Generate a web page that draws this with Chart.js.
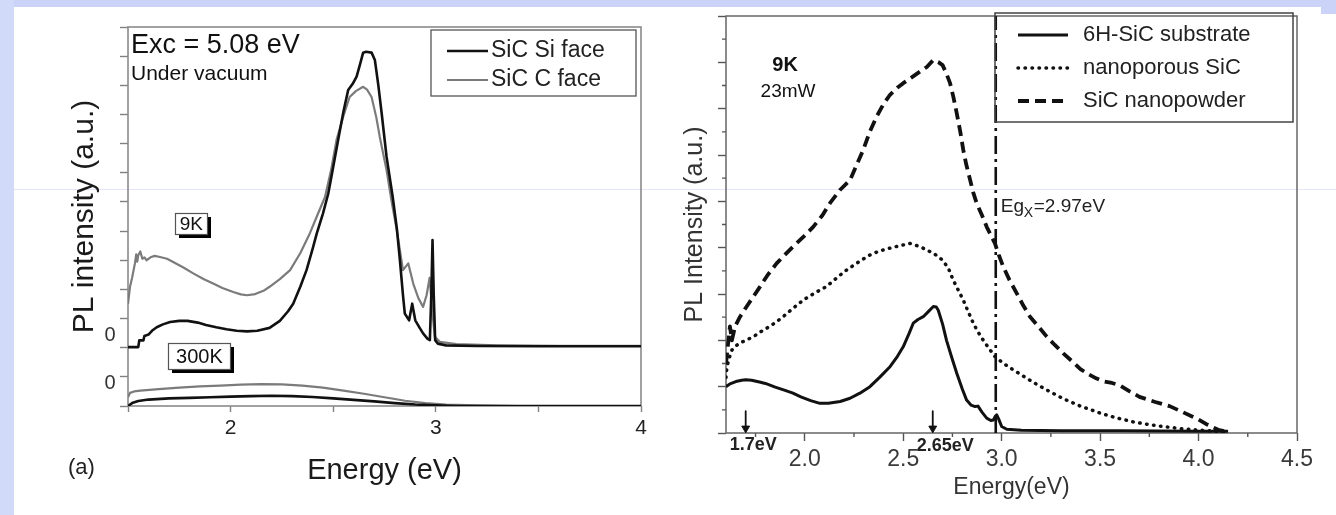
<!DOCTYPE html>
<html>
<head>
<meta charset="utf-8">
<title>SiC photoluminescence</title>
<script src="https://cdn.jsdelivr.net/npm/chart.js@4.4.1/dist/chart.umd.min.js"></script>
<style>
  html, body { margin: 0; padding: 0; background: #fff; }
  #slide { position: relative; width: 1336px; height: 515px; overflow: hidden; background: #fff; }
  .band { position: absolute; background: #cbd3f8; }
  #rule { position: absolute; left: 14px; right: 0; top: 189px; height: 1px; background: #e2e6f8; }
  canvas { position: absolute; top: 0; }
  #chartA { left: 0; }
  #chartB { left: 660px; }
</style>
</head>
<body>
<div id="slide">
  <div class="band" style="left:0;top:0;width:1336px;height:7px"></div>
  <div class="band" style="left:0;top:0;width:14px;height:515px;background:#d2daf9"></div>
  <div class="band" style="left:1321px;top:0;width:15px;height:14px"></div>
  <div id="rule"></div>
  <canvas id="chartA" width="660" height="515"></canvas>
  <canvas id="chartB" width="676" height="515"></canvas>
</div>
<script>
// ---------- panel (a): PL spectra, Si face vs C face, curves offset per temperature ----------
// [energy eV, intensity a.u. (offset units)]
const siFace9K = [
  [1.50, 2.02], [1.55, 2.02], [1.555, 2.25], [1.575, 2.25], [1.58, 2.4], [1.60, 2.45], [1.62, 2.6],
  [1.64, 2.7], [1.67, 2.8], [1.705, 2.88], [1.75, 2.92], [1.79, 2.92], [1.84, 2.86], [1.88, 2.78],
  [1.93, 2.7], [1.98, 2.63], [2.03, 2.58], [2.08, 2.56], [2.13, 2.58], [2.19, 2.68], [2.24, 2.92],
  [2.28, 3.25], [2.305, 3.51], [2.34, 4.1], [2.37, 4.66], [2.40, 5.4], [2.42, 5.92], [2.45, 6.6],
  [2.476, 7.29], [2.50, 8.2], [2.524, 9.12], [2.55, 10.1], [2.573, 10.84], [2.595, 11.05],
  [2.614, 11.3], [2.63, 11.7], [2.646, 12.12], [2.66, 12.15], [2.687, 12.12], [2.703, 11.87],
  [2.72, 11.0], [2.736, 10.05], [2.76, 8.55], [2.79, 7.17], [2.81, 6.1], [2.825, 5.0], [2.84, 3.8],
  [2.849, 3.17], [2.87, 2.94], [2.885, 3.51], [2.90, 2.94], [2.92, 2.7], [2.938, 2.49], [2.96, 2.3],
  [2.971, 2.26], [2.978, 3.8], [2.984, 5.69], [2.99, 3.8], [2.997, 2.26], [3.01, 2.14], [3.05, 2.08],
  [3.2, 2.06], [3.5, 2.05], [4.0, 2.05]
];
const cFace9K = [
  [1.50, 3.5], [1.51, 4.1], [1.52, 4.4], [1.534, 4.9], [1.54, 5.2], [1.545, 4.95], [1.55, 5.17],
  [1.56, 5.3], [1.57, 5.05], [1.58, 5.1], [1.59, 5.0], [1.61, 5.1], [1.63, 5.15], [1.656, 5.11],
  [1.69, 5.05], [1.72, 4.94], [1.77, 4.75], [1.818, 4.55], [1.87, 4.35], [1.915, 4.2], [1.96, 4.05],
  [2.013, 3.91], [2.05, 3.83], [2.08, 3.8], [2.12, 3.84], [2.16, 3.95], [2.19, 4.09], [2.24, 4.35],
  [2.29, 4.66], [2.34, 5.25], [2.386, 5.92], [2.42, 6.5], [2.46, 7.17], [2.49, 8.1], [2.516, 9.12],
  [2.55, 9.95], [2.58, 10.6], [2.61, 10.8], [2.646, 10.95], [2.665, 10.85], [2.687, 10.6],
  [2.71, 9.9], [2.727, 9.23], [2.76, 8.09], [2.785, 7.0], [2.81, 6.03], [2.84, 4.66], [2.866, 4.89],
  [2.89, 4.2], [2.915, 3.7], [2.938, 3.4], [2.955, 3.8], [2.97, 4.4], [2.98, 3.5], [2.995, 2.37],
  [3.02, 2.2], [3.1, 2.12], [3.3, 2.08], [3.6, 2.06], [4.0, 2.06]
];
const siFace300K = [
  [1.50, 0.0], [1.52, 0.1], [1.55, 0.17], [1.6, 0.22], [1.7, 0.26], [1.8, 0.28], [1.9, 0.3],
  [2.0, 0.32], [2.1, 0.34], [2.2, 0.35], [2.3, 0.34], [2.4, 0.31], [2.5, 0.26], [2.6, 0.21],
  [2.7, 0.16], [2.8, 0.1], [2.9, 0.05], [3.0, 0.02], [3.1, 0.0], [4.0, 0.0]
];
const cFace300K = [
  [1.50, 0.3], [1.51, 0.45], [1.53, 0.5], [1.56, 0.53], [1.65, 0.58], [1.75, 0.63], [1.85, 0.67],
  [1.95, 0.7], [2.05, 0.73], [2.15, 0.75], [2.25, 0.74], [2.35, 0.7], [2.45, 0.63], [2.55, 0.53],
  [2.65, 0.42], [2.75, 0.3], [2.85, 0.18], [2.95, 0.1], [3.05, 0.05], [3.2, 0.02], [3.4, 0.0], [4.0, 0.0]
];
const leftXTicks = [1.5, 2, 2.5, 3, 3.5, 4];
const leftXLabels = ['', '2', '', '3', '', '4'];
const leftZeroMarks = [2.42, 0.78];   // where the "0" of each offset group is printed

// ---------- panel (b): 6H-SiC substrate, nanoporous SiC, SiC nanopowder at 9K ----------
const substrate = [
  [1.60, 1.0], [1.62, 1.06], [1.65, 1.11], [1.68, 1.14], [1.70, 1.15], [1.73, 1.14], [1.77, 1.1],
  [1.80, 1.07], [1.85, 0.99], [1.90, 0.92], [1.94, 0.86], [1.98, 0.78], [2.03, 0.70], [2.077, 0.64],
  [2.12, 0.64], [2.18, 0.68], [2.23, 0.75], [2.28, 0.86], [2.331, 1.0], [2.38, 1.2], [2.433, 1.43],
  [2.47, 1.65], [2.50, 1.86], [2.53, 2.15], [2.551, 2.37], [2.575, 2.45], [2.602, 2.51], [2.63, 2.63],
  [2.653, 2.73], [2.668, 2.72], [2.678, 2.65], [2.70, 2.35], [2.72, 2.0], [2.745, 1.65], [2.772, 1.29],
  [2.80, 0.95], [2.822, 0.71], [2.845, 0.6], [2.865, 0.57], [2.88, 0.58], [2.90, 0.45], [2.924, 0.32],
  [2.945, 0.27], [2.958, 0.28], [2.968, 0.36], [2.975, 0.39], [2.985, 0.3], [3.0, 0.14], [3.026, 0.08],
  [3.1, 0.06], [3.3, 0.05], [3.6, 0.05], [4.0, 0.04], [4.15, 0.04]
];
const nanoporous = [
  [1.60, 1.2], [1.605, 1.43], [1.615, 1.6], [1.63, 1.79], [1.65, 1.88], [1.67, 1.94], [1.70, 2.0],
  [1.74, 2.08], [1.77, 2.17], [1.806, 2.26], [1.85, 2.38], [1.89, 2.51], [1.94, 2.69], [1.993, 2.87],
  [2.05, 3.02], [2.11, 3.16], [2.16, 3.34], [2.213, 3.52], [2.28, 3.71], [2.33, 3.84], [2.38, 3.93],
  [2.433, 3.99], [2.48, 4.04], [2.535, 4.09], [2.58, 4.03], [2.62, 3.95], [2.66, 3.86], [2.70, 3.73],
  [2.73, 3.55], [2.754, 3.30], [2.78, 3.08], [2.805, 2.87], [2.83, 2.62], [2.856, 2.37], [2.88, 2.18],
  [2.907, 2.0], [2.94, 1.8], [2.966, 1.65], [3.01, 1.5], [3.06, 1.36], [3.12, 1.2], [3.178, 1.05],
  [3.25, 0.88], [3.313, 0.74], [3.40, 0.58], [3.50, 0.43], [3.58, 0.33], [3.668, 0.24], [3.75, 0.18],
  [3.838, 0.13], [3.92, 0.09], [4.007, 0.06], [4.08, 0.04], [4.14, 0.03]
];
const nanopowder = [
  [1.60, 1.5], [1.61, 1.9], [1.62, 2.3], [1.63, 2.0], [1.646, 2.3], [1.67, 2.5], [1.705, 2.73],
  [1.74, 2.95], [1.773, 3.16], [1.81, 3.4], [1.857, 3.66], [1.90, 3.85], [1.94, 4.02], [1.99, 4.22],
  [2.043, 4.45], [2.09, 4.7], [2.128, 4.96], [2.18, 5.25], [2.23, 5.46], [2.26, 5.75], [2.297, 6.11],
  [2.33, 6.5], [2.365, 6.83], [2.40, 7.1], [2.433, 7.3], [2.47, 7.45], [2.50, 7.55], [2.545, 7.68],
  [2.585, 7.8], [2.62, 7.9], [2.653, 8.05], [2.68, 8.0], [2.70, 7.94], [2.72, 7.75], [2.738, 7.55],
  [2.755, 7.25], [2.772, 6.9], [2.79, 6.5], [2.805, 6.11], [2.82, 5.8], [2.84, 5.46], [2.855, 5.2],
  [2.873, 4.96], [2.90, 4.7], [2.924, 4.45], [2.945, 4.27], [2.966, 4.09], [2.985, 3.85], [3.008, 3.59],
  [3.04, 3.3], [3.076, 3.02], [3.11, 2.75], [3.144, 2.51], [3.19, 2.28], [3.229, 2.08], [3.27, 1.9],
  [3.313, 1.72], [3.365, 1.52], [3.40, 1.38], [3.44, 1.27], [3.48, 1.18], [3.513, 1.12], [3.56, 1.08],
  [3.60, 1.03], [3.65, 0.9], [3.70, 0.78], [3.78, 0.67], [3.853, 0.58], [3.92, 0.45], [3.97, 0.35],
  [4.0, 0.29], [4.04, 0.19], [4.065, 0.14], [4.10, 0.07], [4.13, 0.04]
];
const egxEnergy = 2.97;
const rightXTicks = [2.0, 2.5, 3.0, 3.5, 4.0, 4.5];
const rightXMinor = [1.75, 2.25, 2.75, 3.25, 3.75, 4.25];
const rightYTicks = [0, 1, 2, 3, 4, 5, 6, 7, 8, 9];
const rightYMinor = [0.5, 1.5, 2.5, 3.5, 4.5, 5.5, 6.5, 7.5, 8.5];
const peakEnergies = [1.7, 2.65];
const peakLabels = ['1.7eV', '2.65eV'];

const FONT = "'Liberation Sans', Arial, Helvetica, sans-serif";
const pts = arr => arr.map(([x, y]) => ({ x, y }));

// Frame, minor ticks, boxed legend and free text. Settings are kept in a closure
// (not in chart options) so Chart.js does not wrap the nested arrays in resolvers.
function makeDecor(cfg) {
  return {
    id: 'panelDecor',
    beforeDatasetsDraw(chart) {
      const { ctx, chartArea: a, scales: { x, y } } = chart;
      ctx.save();
      ctx.strokeStyle = cfg.frameColor;
      ctx.lineWidth = cfg.frameWidth;
      ctx.strokeRect(a.left, a.top, a.right - a.left, a.bottom - a.top);
      ctx.strokeStyle = cfg.tickColor;
      ctx.lineWidth = 1.4;
      ctx.beginPath();
      (cfg.minorX || []).forEach(v => {
        const px = x.getPixelForValue(v);
        ctx.moveTo(px, a.bottom); ctx.lineTo(px, a.bottom + cfg.minorLen);
      });
      (cfg.minorY || []).forEach(v => {
        const py = y.getPixelForValue(v);
        ctx.moveTo(a.left, py); ctx.lineTo(a.left - cfg.minorLen, py);
      });
      ctx.stroke();
      ctx.restore();
    },
    afterDatasetsDraw(chart) {
      const { ctx, chartArea: a, scales: { x, y } } = chart;
      const posX = t => (t.x !== undefined ? x.getPixelForValue(t.x) : a.left) + (t.dx || 0);
      const posY = t => (t.y !== undefined ? y.getPixelForValue(t.y) : a.top) + (t.dy || 0);
      ctx.save();
      ctx.textBaseline = 'middle';

      (cfg.tags || []).forEach(t => {
        const cx = posX(t), cy = posY(t);
        const l = Math.round(cx - t.w / 2), tp = Math.round(cy - t.h / 2);
        ctx.fillStyle = '#000';
        ctx.fillRect(l + t.shadow, tp + t.shadow, t.w, t.h);
        ctx.fillStyle = '#fff';
        ctx.fillRect(l, tp, t.w, t.h);
        ctx.strokeStyle = '#555';
        ctx.lineWidth = 1.2;
        ctx.strokeRect(l + 0.5, tp + 0.5, t.w, t.h);
        ctx.fillStyle = '#111';
        ctx.font = t.font;
        ctx.textAlign = 'center';
        ctx.fillText(t.text, cx, cy + 1);
      });

      (cfg.texts || []).forEach(t => {
        ctx.fillStyle = t.color || '#111';
        ctx.font = t.font;
        ctx.textAlign = t.align || 'left';
        ctx.fillText(t.text, posX(t), posY(t));
      });

      const L = cfg.legend;
      if (L) {
        const bx = a.left + L.left, by = a.top + L.top;
        ctx.strokeStyle = L.borderColor;
        ctx.lineWidth = L.borderWidth;
        ctx.strokeRect(bx, by, L.width, L.height);
        chart.data.datasets.filter(d => d.inLegend).forEach((d, i) => {
          const ry = by + L.firstRow + i * L.rowGap;
          ctx.strokeStyle = d.borderColor;
          ctx.lineWidth = d.borderWidth;
          ctx.lineCap = d.borderCapStyle || 'butt';
          ctx.setLineDash(d.borderDash || []);
          ctx.beginPath();
          ctx.moveTo(bx + L.sampleStart, ry);
          ctx.lineTo(bx + L.sampleEnd, ry);
          ctx.stroke();
          ctx.setLineDash([]);
          ctx.lineCap = 'butt';
          ctx.fillStyle = L.color;
          ctx.font = L.font;
          ctx.textAlign = 'left';
          ctx.fillText(d.label, bx + L.textStart, ry);
        });
      }
      ctx.restore();
    }
  };
}

Chart.defaults.font.family = FONT;
Chart.defaults.datasets.scatter.showLine = true;

// panel (a)
new Chart(document.getElementById('chartA'), {
  type: 'scatter',
  data: {
    datasets: [
      { label: 'SiC Si face', data: pts(siFace9K), borderColor: '#111', borderWidth: 2.6, inLegend: true },
      { label: 'SiC C face', data: pts(cFace9K), borderColor: '#7b7b7b', borderWidth: 2.2, inLegend: true },
      { label: 'SiC Si face 300K', data: pts(siFace300K), borderColor: '#111', borderWidth: 2.6 },
      { label: 'SiC C face 300K', data: pts(cFace300K), borderColor: '#7b7b7b', borderWidth: 2.2 }
    ]
  },
  options: {
    responsive: false,
    animation: false,
    events: [],
    elements: { point: { radius: 0 }, line: { tension: 0, borderJoinStyle: 'round' } },
    layout: { padding: { left: 0, top: 27, right: 19, bottom: 0 } },
    plugins: { legend: { display: false }, tooltip: { enabled: false } },
    scales: {
      x: {
        type: 'linear', min: 1.5, max: 4,
        afterFit: s => { s.height = 109; },
        afterBuildTicks: s => { s.ticks = leftXTicks.map(v => ({ value: v })); },
        ticks: {
          callback: (v, i) => leftXLabels[i], autoSkip: false, maxRotation: 0,
          font: { size: 21 }, color: '#222', padding: 4
        },
        grid: { drawOnChartArea: false, drawTicks: true, tickLength: 6, tickColor: '#808080', tickWidth: 1.4 },
        border: { display: false },
        title: { display: true, text: 'Energy (eV)', font: { size: 29 }, color: '#1a1a1a', padding: { top: 0, bottom: 27 } }
      },
      y: {
        type: 'linear', min: 0, max: 13,
        afterFit: s => { s.width = 128; },
        ticks: { stepSize: 1, display: false },
        grid: { drawOnChartArea: false, drawTicks: true, tickLength: 8, tickColor: '#808080', tickWidth: 1.4 },
        border: { display: false },
        title: { display: true, text: 'PL intensity (a.u.)', font: { size: 30 }, color: '#1a1a1a', padding: { top: 67, bottom: 0 } }
      }
    }
  },
  plugins: [makeDecor({
    frameColor: '#8a8a8a', frameWidth: 1.6, tickColor: '#808080', minorLen: 0,
    legend: {
      left: 303, top: 3, width: 205, height: 66, firstRow: 21, rowGap: 29,
      sampleStart: 16, sampleEnd: 57, textStart: 60,
      font: '23px ' + FONT, color: '#222', borderColor: '#555', borderWidth: 1.3
    },
    texts: [
      { text: 'Exc = 5.08 eV', dx: 3, dy: 19, font: '27px ' + FONT, color: '#111' },
      { text: 'Under vacuum', dx: 3, dy: 47, font: '21px ' + FONT, color: '#111' },
      { text: '(a)', dx: -60, dy: 441, font: '22px ' + FONT, color: '#222' },
      { text: '0', y: leftZeroMarks[0], dx: -18, align: 'center', font: '20px ' + FONT, color: '#333' },
      { text: '0', y: leftZeroMarks[1], dx: -18, align: 'center', font: '20px ' + FONT, color: '#333' }
    ],
    tags: [
      { text: '9K', x: 1.809, y: 6.25, w: 32, h: 21, shadow: 4, font: '19px ' + FONT },
      { text: '300K', x: 1.848, y: 1.71, w: 62, h: 26, shadow: 4, font: '20px ' + FONT }
    ]
  })]
});

// panel (b)
const arrowSet = e => ({
  label: 'arrow ' + e, data: pts([[e, 0.47], [e, 0.1]]), borderColor: '#111', borderWidth: 1.8,
  pointRadius: [0, 4.5], pointStyle: 'triangle', pointRotation: 180,
  pointBackgroundColor: '#111', pointBorderColor: '#111', pointBorderWidth: 1
});

new Chart(document.getElementById('chartB'), {
  type: 'scatter',
  data: {
    datasets: [
      { label: '6H-SiC substrate', data: pts(substrate), borderColor: '#111', borderWidth: 3, inLegend: true },
      { label: 'nanoporous SiC', data: pts(nanoporous), borderColor: '#111', borderWidth: 3.5,
        borderDash: [0.5, 6.5], borderCapStyle: 'round', inLegend: true },
      { label: 'SiC nanopowder', data: pts(nanopowder), borderColor: '#111', borderWidth: 3.8,
        borderDash: [11, 6], inLegend: true },
      { label: 'Egx', data: pts([[egxEnergy, 0], [egxEnergy, 9]]), borderColor: '#111', borderWidth: 2.6,
        borderDash: [18, 5, 3, 5] },
      arrowSet(peakEnergies[0]),
      arrowSet(peakEnergies[1])
    ]
  },
  options: {
    responsive: false,
    animation: false,
    events: [],
    elements: { point: { radius: 0 }, line: { tension: 0, borderJoinStyle: 'round' } },
    layout: { padding: { left: 0, top: 16, right: 39, bottom: 0 } },
    plugins: { legend: { display: false }, tooltip: { enabled: false } },
    scales: {
      x: {
        type: 'linear', min: 1.6, max: 4.5,
        afterFit: s => { s.height = 82; },
        afterBuildTicks: s => { s.ticks = rightXTicks.map(v => ({ value: v })); },
        ticks: {
          callback: v => v.toFixed(1), autoSkip: false, maxRotation: 0,
          font: { size: 23 }, color: '#3a3a3a', padding: 5
        },
        grid: { drawOnChartArea: false, drawTicks: true, tickLength: 8, tickColor: '#555', tickWidth: 1.4 },
        border: { display: false },
        title: { display: true, text: 'Energy(eV)', font: { size: 23 }, color: '#333', padding: { top: 0, bottom: 14 } }
      },
      y: {
        type: 'linear', min: 0, max: 9,
        afterFit: s => { s.width = 66; },
        afterBuildTicks: s => { s.ticks = rightYTicks.map(v => ({ value: v })); },
        ticks: { display: false },
        grid: { drawOnChartArea: false, drawTicks: true, tickLength: 8, tickColor: '#555', tickWidth: 1.4 },
        border: { display: false },
        title: { display: true, text: 'PL Intensity (a.u.)', font: { size: 25 }, color: '#333', padding: { top: 20, bottom: 0 } }
      }
    }
  },
  plugins: [makeDecor({
    frameColor: '#666', frameWidth: 1.5, tickColor: '#555', minorLen: 4,
    minorX: rightXMinor, minorY: rightYMinor,
    legend: {
      left: 269, top: -3, width: 298, height: 109, firstRow: 22, rowGap: 33,
      sampleStart: 23, sampleEnd: 73, textStart: 88,
      font: '22px ' + FONT, color: '#222', borderColor: '#444', borderWidth: 1.5
    },
    texts: [
      { text: '9K', x: 1.90, y: 7.94, align: 'center', font: 'bold 20px ' + FONT, color: '#111' },
      { text: '23mW', x: 1.915, y: 7.36, align: 'center', font: '19px ' + FONT, color: '#111' },
      { text: 'Eg', x: egxEnergy, dx: 5, y: 4.88, font: '19px ' + FONT, color: '#222' },
      { text: 'X', x: egxEnergy, dx: 28, y: 4.88, dy: 6, font: '14px ' + FONT, color: '#222' },
      { text: '=2.97eV', x: egxEnergy, dx: 38, y: 4.88, font: '19px ' + FONT, color: '#222' },
      { text: peakLabels[0], x: peakEnergies[0], dx: -16, y: 0, dy: 12, font: 'bold 18px ' + FONT, color: '#222' },
      { text: peakLabels[1], x: peakEnergies[1], dx: -16, y: 0, dy: 13, font: 'bold 18px ' + FONT, color: '#222' }
    ]
  })]
});
</script>
</body>
</html>
